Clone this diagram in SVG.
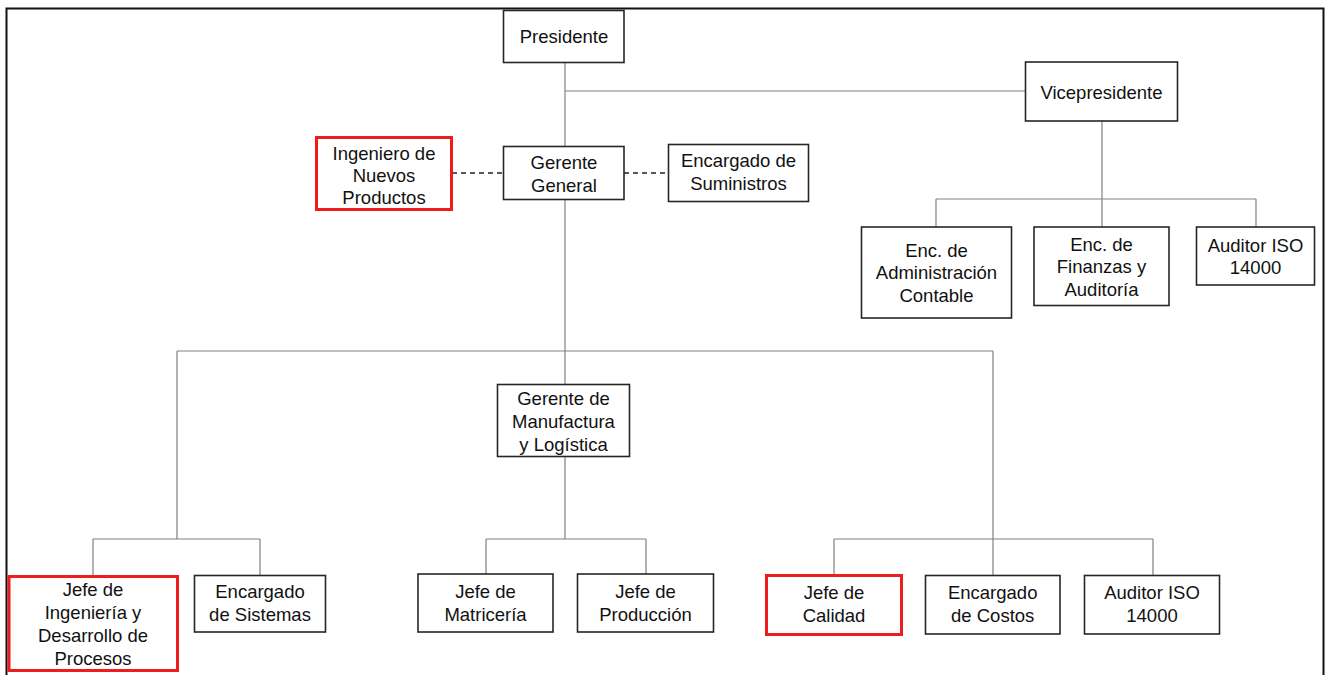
<svg xmlns="http://www.w3.org/2000/svg" width="1330" height="675" viewBox="0 0 1330 675">
<style>
.bx{fill:#fff;stroke:#262626;stroke-width:1.6}
.rd{fill:#fff;stroke:#ee1c1c;stroke-width:3}
.ln{fill:none;stroke:#808080;stroke-width:1.2}
.ds{fill:none;stroke:#222;stroke-width:1.4;stroke-dasharray:5 4}
text{font-family:"Liberation Sans",Arial,sans-serif;font-size:18.5px;fill:#111;text-anchor:middle}
</style>
<rect width="1330" height="675" fill="#fff"/>
<rect x="6.5" y="8.5" width="1317" height="700" fill="none" stroke="#111" stroke-width="2"/>
<g id="connectors">
<path class="ln" d="M565 62V384M565 91H1025M1102 121V227M936 199H1256M936 199V227M1256 199V227M177 351H993M177 351V539M93 539H260M93 539V576M260 539V575M565 457V539M486 539H646M486 539V574M646 539V574M993 351V575M834 539H1153M834 539V575M1153 539V575"/>
<path class="ds" d="M452 173H503M624 173H668"/>
</g>
<g id="presidente"><rect class="bx" x="503.5" y="10.5" width="120.5" height="52"/><text x="564" y="43">Presidente</text></g>
<g id="vicepresidente"><rect class="bx" x="1025.5" y="62" width="152" height="59"/><text x="1101.5" y="99">Vicepresidente</text></g>
<g id="ingeniero"><rect class="rd" x="316.5" y="137.5" width="135" height="72"/><text x="384" y="159.5">Ingeniero de</text><text x="384" y="181.5">Nuevos</text><text x="384" y="203.5">Productos</text></g>
<g id="gerente-general"><rect class="bx" x="503.5" y="146.5" width="120.5" height="53"/><text x="564" y="168.5">Gerente</text><text x="564" y="191.5">General</text></g>
<g id="suministros"><rect class="bx" x="668.5" y="144.5" width="140" height="57"/><text x="738.5" y="167">Encargado de</text><text x="738.5" y="190">Suministros</text></g>
<g id="admin"><rect class="bx" x="861.5" y="227" width="150" height="91"/><text x="936.5" y="256.5">Enc. de</text><text x="936.5" y="279">Administración</text><text x="936.5" y="301.5">Contable</text></g>
<g id="finanzas"><rect class="bx" x="1034" y="227" width="135" height="78.5"/><text x="1101.5" y="250.5">Enc. de</text><text x="1101.5" y="273">Finanzas y</text><text x="1101.5" y="295.5">Auditoría</text></g>
<g id="auditor1"><rect class="bx" x="1196.5" y="227" width="118" height="58"/><text x="1255.5" y="251.5">Auditor ISO</text><text x="1255.5" y="274">14000</text></g>
<g id="manufactura"><rect class="bx" x="497.5" y="384.5" width="132" height="72"/><text x="563.5" y="405">Gerente de</text><text x="563.5" y="428">Manufactura</text><text x="563.5" y="450.5">y Logística</text></g>
<g id="ingenieria"><rect class="rd" x="9" y="576.5" width="168.5" height="94"/><text x="93" y="595.5">Jefe de</text><text x="93" y="618.5">Ingeniería y</text><text x="93" y="641.5">Desarrollo de</text><text x="93" y="664.5">Procesos</text></g>
<g id="sistemas"><rect class="bx" x="194.5" y="575.5" width="131" height="56.5"/><text x="260" y="598">Encargado</text><text x="260" y="621">de Sistemas</text></g>
<g id="matriceria"><rect class="bx" x="418" y="574" width="135" height="58"/><text x="485.5" y="598">Jefe de</text><text x="485.5" y="621">Matricería</text></g>
<g id="produccion"><rect class="bx" x="577.5" y="574" width="136" height="58"/><text x="645.5" y="598">Jefe de</text><text x="645.5" y="621">Producción</text></g>
<g id="calidad"><rect class="rd" x="766.5" y="575.5" width="135" height="59"/><text x="834" y="599">Jefe de</text><text x="834" y="622">Calidad</text></g>
<g id="costos"><rect class="bx" x="925.5" y="575.5" width="134.5" height="58.5"/><text x="992.7" y="599">Encargado</text><text x="992.7" y="622">de Costos</text></g>
<g id="auditor2"><rect class="bx" x="1084.5" y="575.5" width="135" height="58.5"/><text x="1152" y="599">Auditor ISO</text><text x="1152" y="622">14000</text></g>
</svg>
